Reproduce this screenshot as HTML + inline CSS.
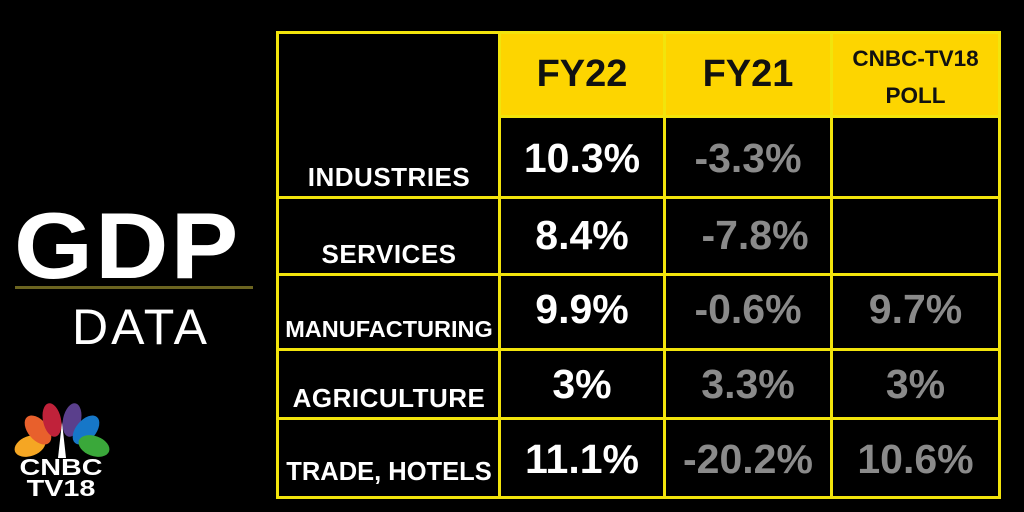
<!DOCTYPE html>
<html><head><style>
body{margin:0;width:1024px;height:512px;background:#000;overflow:hidden;position:relative;font-family:"Liberation Sans",sans-serif;}
.a{position:absolute;}
.t{position:absolute;font-weight:bold;text-align:center;white-space:nowrap;}
.v{font-size:41px;color:#fff;}
.g{font-size:41px;color:#8a8a8a;}
.l{font-size:26px;color:#fff;letter-spacing:0.5px;}
.h{font-size:38px;color:#111;}
.hl{position:absolute;background:#f2e40c;height:3px;}
.vl{position:absolute;background:#f2e40c;width:3px;}
</style></head><body>
<div class="a" style="left:499px;top:32px;width:501px;height:84px;background:#fdd500"></div>
<div class="hl" style="left:277px;top:31px;width:724px"></div>
<div class="hl" style="left:499px;top:115px;width:502px"></div>
<div class="hl" style="left:277px;top:196px;width:724px"></div>
<div class="hl" style="left:277px;top:273px;width:724px"></div>
<div class="hl" style="left:277px;top:348px;width:724px"></div>
<div class="hl" style="left:277px;top:417px;width:724px"></div>
<div class="hl" style="left:277px;top:496px;width:724px"></div>
<div class="vl" style="left:276px;top:31px;height:468px"></div>
<div class="vl" style="left:498px;top:31px;height:468px"></div>
<div class="vl" style="left:663px;top:31px;height:468px"></div>
<div class="vl" style="left:830px;top:31px;height:468px"></div>
<div class="vl" style="left:998px;top:31px;height:468px"></div>

<div class="t h" style="left:500px;width:164px;top:53px">FY22</div>
<div class="t h" style="left:665px;width:166px;top:53px">FY21</div>
<div class="t" style="left:832px;width:167px;top:40px;font-size:22.5px;line-height:37px;color:#111">CNBC-TV18<br>POLL</div>

<div class="t l" style="left:279px;width:220px;top:162px">INDUSTRIES</div>
<div class="t l" style="left:279px;width:220px;top:239px">SERVICES</div>
<div class="t l" style="left:279px;width:220px;top:316px;font-size:23.5px;letter-spacing:0">MANUFACTURING</div>
<div class="t l" style="left:279px;width:220px;top:383px">AGRICULTURE</div>
<div class="t l" style="left:279px;width:220px;top:458px;font-size:25.5px;letter-spacing:0">TRADE, HOTELS</div>

<div class="t v" style="left:500px;width:164px;top:135px">10.3%</div>
<div class="t g" style="left:665px;width:166px;top:135px">-3.3%</div>
<div class="t v" style="left:500px;width:164px;top:212px">8.4%</div>
<div class="t g" style="left:672px;width:166px;top:212px">-7.8%</div>
<div class="t v" style="left:500px;width:164px;top:286px">9.9%</div>
<div class="t g" style="left:665px;width:166px;top:286px">-0.6%</div>
<div class="t g" style="left:832px;width:167px;top:286px">9.7%</div>
<div class="t v" style="left:500px;width:164px;top:361px">3%</div>
<div class="t g" style="left:665px;width:166px;top:361px">3.3%</div>
<div class="t g" style="left:832px;width:167px;top:361px">3%</div>
<div class="t v" style="left:500px;width:164px;top:436px">11.1%</div>
<div class="t g" style="left:665px;width:166px;top:436px">-20.2%</div>
<div class="t g" style="left:832px;width:167px;top:436px">10.6%</div>

<div class="t" style="left:14px;top:192px;width:240px;font-size:94px;color:#fff;letter-spacing:2px;text-align:left;transform:scaleX(1.08);transform-origin:left">GDP</div>
<div class="a" style="left:15px;top:286px;width:238px;height:3px;background:#6b6420"></div>
<div class="a" style="left:72px;top:298px;font-size:50px;color:#fff;letter-spacing:3px">DATA</div>

<svg class="a" style="left:10px;top:400px" width="105" height="62" viewBox="0 0 105 62">
<ellipse cx="20" cy="46" rx="16" ry="10" transform="rotate(-20 20 46)" fill="#f5a623"/>
<ellipse cx="28" cy="30" rx="10" ry="17" transform="rotate(-40 28 30)" fill="#e8602c"/>
<ellipse cx="42" cy="20" rx="9" ry="17" transform="rotate(-12 42 20)" fill="#c0223a"/>
<ellipse cx="62" cy="20" rx="9" ry="17" transform="rotate(12 62 20)" fill="#5a3f8c"/>
<ellipse cx="76" cy="30" rx="10" ry="17" transform="rotate(40 76 30)" fill="#1677c8"/>
<ellipse cx="84" cy="46" rx="16" ry="10" transform="rotate(20 84 46)" fill="#3aa83a"/>
<path d="M52 22 L48 58 L56 58 Z" fill="#fff"/>
</svg>
<div class="t" style="left:12px;top:457px;width:98px;font-size:23px;line-height:21px;color:#fff;transform:scaleX(1.25);transform-origin:center">CNBC<br>TV18</div>
</body></html>
